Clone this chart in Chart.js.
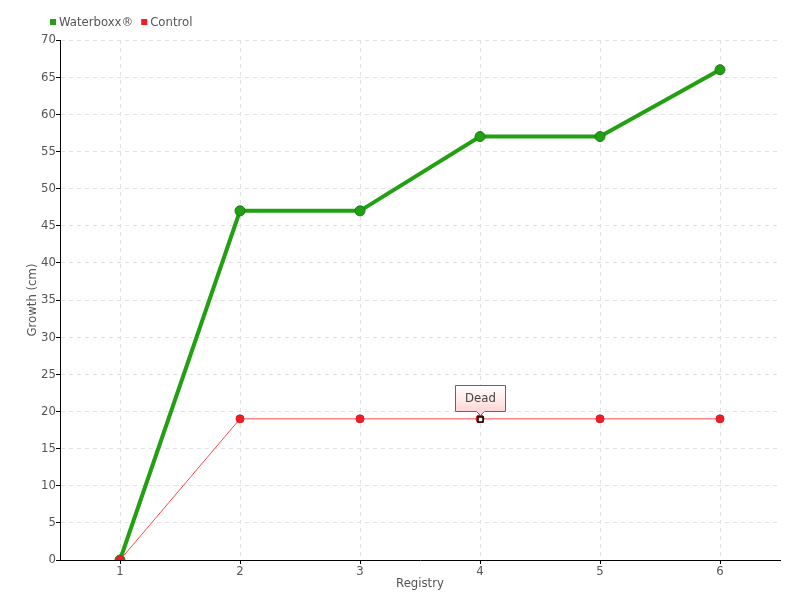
<!DOCTYPE html>
<html>
<head>
<meta charset="utf-8">
<script src="https://cdn.jsdelivr.net/npm/chart.js@4/dist/chart.umd.min.js"></script>
<style>
  html, body { margin: 0; padding: 0; background: #fff; }
  #wrap { width: 800px; height: 600px; }
</style>
</head>
<body>
<div id="wrap"><canvas id="chart" width="800" height="600"></canvas></div>
<script>
const registry = ["1", "2", "3", "4", "5", "6"];
const waterboxx = [0, 47, 47, 57, 57, 66];
const control = [0, 19, 19, 19, 19, 19];
const yTicks = [0, 5, 10, 15, 20, 25, 30, 35, 40, 45, 50, 55, 60, 65, 70];
const notes = [{ series: 1, index: 3, text: "Dead" }];

const FONT = "'DejaVu Sans Condensed', 'DejaVu Sans', sans-serif";
const TEXT = "#555";

// legend drawn by hand so it sits where the original one does
const topLegend = {
    id: "topLegend",
    afterDraw(chart) {
        const c = chart.ctx;
        let x = 50;
        c.save();
        c.font = "13px " + FONT;
        c.textBaseline = "middle";
        chart.data.datasets.forEach(ds => {
            c.fillStyle = ds.legendColor;
            c.fillRect(x, 19, 6, 6);
            c.fillStyle = TEXT;
            c.fillText(ds.label, x + 9, 22.5);
            x += 9 + c.measureText(ds.label).width + 8;
        });
        c.restore();
    }
};

// callout box above a point
const callouts = {
    id: "callouts",
    afterDatasetsDraw(chart) {
        const c = chart.ctx;
        c.save();
        notes.forEach(n => {
            const el = chart.getDatasetMeta(n.series).data[n.index];
            const px = Math.round(el.x) + 0.5, py = Math.round(el.y) + 0.5;
            // marker
            c.fillStyle = "#fff";
            c.strokeStyle = "#000";
            c.lineWidth = 1.5;
            c.fillRect(px - 2.5, py - 2.5, 5, 5);
            c.strokeRect(px - 2.5, py - 2.5, 5, 5);
            // box
            const w = 50, h = 26, bx = px - 25, by = py - 34;
            const g = c.createLinearGradient(0, by, 0, by + h);
            g.addColorStop(0, "#ffffff");
            g.addColorStop(1, "#ffd6d6");
            c.beginPath();
            c.moveTo(bx, by);
            c.lineTo(bx + w, by);
            c.lineTo(bx + w, by + h);
            c.lineTo(px + 4, by + h);
            c.lineTo(px, by + h + 4);
            c.lineTo(px - 4, by + h);
            c.lineTo(bx, by + h);
            c.closePath();
            c.fillStyle = g;
            c.fill();
            c.strokeStyle = "#666";
            c.lineWidth = 1;
            c.stroke();
            c.fillStyle = "#444";
            c.font = "13px " + FONT;
            c.textAlign = "center";
            c.textBaseline = "middle";
            c.fillText(n.text, px, by + h / 2);
        });
        c.restore();
    }
};

const gridOpts = {
    color: "#e2e2e2",
    tickColor: "#000",
    tickLength: 4,
    tickBorderDash: []
};

const ctx = document.getElementById("chart").getContext("2d");
new Chart(ctx, {
    type: "line",
    data: {
        labels: registry,
        datasets: [
            {
                label: "Waterboxx®",
                data: waterboxx,
                legendColor: "#22a012",
                borderColor: "#22a012",
                borderWidth: 4,
                pointRadius: 5,
                pointBackgroundColor: "#22a012",
                pointBorderColor: "#1d7a16",
                pointBorderWidth: 1,
                tension: 0,
                order: 2
            },
            {
                label: "Control",
                data: control,
                legendColor: "#ee1c25",
                borderColor: "#ff4a4a",
                borderWidth: 1,
                pointRadius: 4,
                pointBackgroundColor: "#ee1c25",
                pointBorderColor: "#e01a20",
                pointBorderWidth: 1,
                tension: 0,
                order: 1
            }
        ]
    },
    options: {
        responsive: false,
        animation: false,
        layout: { padding: { top: 40, right: 20, left: 0, bottom: 0 } },
        plugins: {
            legend: { display: false },
            tooltip: { enabled: false }
        },
        scales: {
            x: {
                type: "category",
                offset: true,
                grid: gridOpts,
                border: { color: "#000", width: 1, dash: [4, 4] },
                ticks: { color: TEXT, font: { family: FONT, size: 13 }, padding: 0 },
                title: {
                    display: true,
                    text: "Registry",
                    color: TEXT,
                    font: { family: FONT, size: 13 },
                    padding: { top: 0, bottom: 9 }
                },
                afterFit(s) { s.height = 40; }
            },
            y: {
                min: 0,
                max: 70,
                afterBuildTicks(s) { s.ticks = yTicks.map(v => ({ value: v })); },
                grid: gridOpts,
                border: { color: "#000", width: 1, dash: [4, 4] },
                ticks: { color: TEXT, font: { family: FONT, size: 13 }, padding: 0 },
                title: {
                    display: true,
                    text: "Growth (cm)",
                    color: TEXT,
                    font: { family: FONT, size: 13 },
                    padding: { top: 25, bottom: 0 }
                },
                afterFit(s) { s.width = 60; }
            }
        }
    },
    plugins: [topLegend, callouts]
});
</script>
</body>
</html>
